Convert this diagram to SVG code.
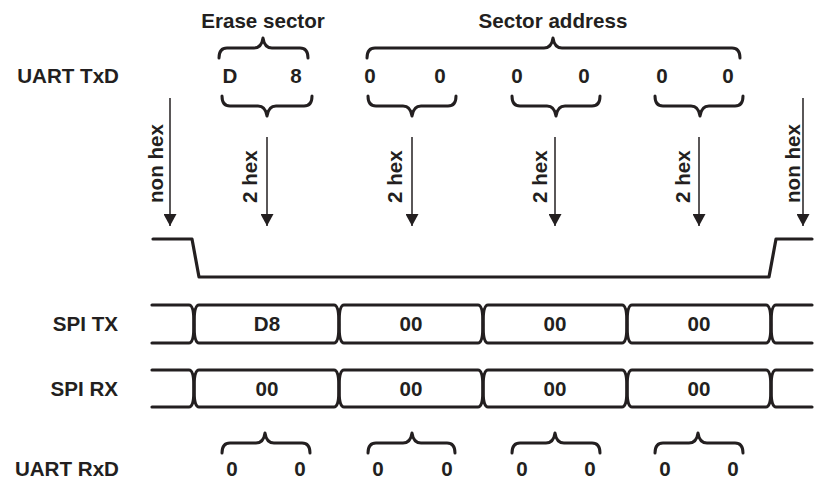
<svg xmlns="http://www.w3.org/2000/svg" width="815" height="479" viewBox="0 0 815 479">
<defs>
<style>
text{font-family:"Liberation Sans",Arial,Helvetica,sans-serif;font-weight:bold;font-size:20.6px;fill:#231f20}
.lbl{text-anchor:end}
.c{text-anchor:middle}
.brace{fill:none;stroke:#231f20;stroke-width:3;stroke-linecap:round;stroke-linejoin:round}
.bus{fill:none;stroke:#231f20;stroke-width:3.2;stroke-linecap:round;stroke-linejoin:round}
.arr{stroke:#231f20;stroke-width:1.5;marker-end:url(#ah)}
</style>
<marker id="ah" markerUnits="userSpaceOnUse" markerWidth="13" markerHeight="13" refX="12" refY="6.5" orient="auto">
<path d="M0,0 L12,6.5 L0,13 Z" fill="#231f20"/>
</marker>
</defs>
<rect width="815" height="479" fill="#fff"/>

<g id="labels">
<text class="lbl" x="119" y="83">UART TxD</text>
<text class="lbl" x="118" y="331">SPI TX</text>
<text class="lbl" x="118" y="396">SPI RX</text>
<text class="lbl" x="119" y="476">UART RxD</text>
</g>

<g id="erase-sector">
<text class="c" x="263" y="28">Erase sector</text>
<path class="brace" d="M219,58 Q219,48 227,48 H254 C259,48 262,45 263,38 C264,45 267,48 272,48 H300 Q308,48 308,58"/>
</g>

<g id="sector-address">
<text class="c" x="553" y="28">Sector address</text>
<path class="brace" d="M367,58 Q367,48 375,48 H544 C549,48 552,45 553,38 C554,45 557,48 562,48 H732 Q740,48 740,58"/>
</g>

<g id="uart-txd">
<text class="c" x="230" y="83">D</text>
<text class="c" x="296" y="83">8</text>
<text class="c" x="370" y="83">0</text>
<text class="c" x="440" y="83">0</text>
<text class="c" x="517" y="83">0</text>
<text class="c" x="584" y="83">0</text>
<text class="c" x="662" y="83">0</text>
<text class="c" x="728" y="83">0</text>
<path class="brace" d="M222,96 Q222,106 230,106 H258 C263,106 266,109 267,116 C268,109 271,106 276,106 H304 Q312,106 312,96"/>
<path class="brace" d="M368,96 Q368,106 376,106 H403 C408,106 411,109 412,116 C413,109 416,106 421,106 H448 Q456,106 456,96"/>
<path class="brace" d="M512,96 Q512,106 520,106 H547 C552,106 555,109 556,116 C557,109 560,106 565,106 H592 Q600,106 600,96"/>
<path class="brace" d="M655,96 Q655,106 663,106 H691 C696,106 699,109 700,116 C701,109 704,106 709,106 H735 Q743,106 743,96"/>
</g>

<g id="connectors">
<line class="arr" x1="170" y1="98" x2="170" y2="226"/>
<line class="arr" x1="267" y1="137" x2="267" y2="226"/>
<line class="arr" x1="412" y1="137" x2="412" y2="226"/>
<line class="arr" x1="555" y1="137" x2="555" y2="226"/>
<line class="arr" x1="699" y1="137" x2="699" y2="226"/>
<line class="arr" x1="803" y1="98" x2="803" y2="226"/>
</g>

<g id="arrow-labels">
<text transform="translate(163,203) rotate(-90)">non hex</text>
<text transform="translate(257,203) rotate(-90)">2 hex</text>
<text transform="translate(402,203) rotate(-90)">2 hex</text>
<text transform="translate(547,203) rotate(-90)">2 hex</text>
<text transform="translate(690,203) rotate(-90)">2 hex</text>
<text transform="translate(800,203) rotate(-90)">non hex</text>
</g>

<g id="level">
<path class="bus" d="M153,239 H192 L199,277 H769 L776,239 H812"/>
</g>

<g id="spi-tx">
<path class="bus" d="M152,305 H189 Q194,305 194,324 Q194,343 189,343 H152"/>
<path class="bus" d="M194,324 Q194,305 199,305 H334 Q339,305 339,324 Q339,343 334,343 H199 Q194,343 194,324 Z"/>
<path class="bus" d="M339,324 Q339,305 344,305 H478 Q483,305 483,324 Q483,343 478,343 H344 Q339,343 339,324 Z"/>
<path class="bus" d="M483,324 Q483,305 488,305 H622 Q627,305 627,324 Q627,343 622,343 H488 Q483,343 483,324 Z"/>
<path class="bus" d="M627,324 Q627,305 632,305 H766 Q771,305 771,324 Q771,343 766,343 H632 Q627,343 627,324 Z"/>
<path class="bus" d="M812,305 H776 Q771,305 771,324 Q771,343 776,343 H812"/>
<text class="c" x="267" y="331">D8</text>
<text class="c" x="411" y="331">00</text>
<text class="c" x="555" y="331">00</text>
<text class="c" x="699" y="331">00</text>
</g>

<g id="spi-rx">
<path class="bus" d="M152,370 H189 Q194,370 194,388.5 Q194,407 189,407 H152"/>
<path class="bus" d="M194,388.5 Q194,370 199,370 H334 Q339,370 339,388.5 Q339,407 334,407 H199 Q194,407 194,388.5 Z"/>
<path class="bus" d="M339,388.5 Q339,370 344,370 H478 Q483,370 483,388.5 Q483,407 478,407 H344 Q339,407 339,388.5 Z"/>
<path class="bus" d="M483,388.5 Q483,370 488,370 H622 Q627,370 627,388.5 Q627,407 622,407 H488 Q483,407 483,388.5 Z"/>
<path class="bus" d="M627,388.5 Q627,370 632,370 H766 Q771,370 771,388.5 Q771,407 766,407 H632 Q627,407 627,388.5 Z"/>
<path class="bus" d="M812,370 H776 Q771,370 771,388.5 Q771,407 776,407 H812"/>
<text class="c" x="267" y="396">00</text>
<text class="c" x="411" y="396">00</text>
<text class="c" x="555" y="396">00</text>
<text class="c" x="699" y="396">00</text>
</g>

<g id="uart-rxd">
<path class="brace" d="M222,453 Q222,443 230,443 H256 C261,443 264,440 265,433 C266,440 269,443 274,443 H302 Q310,443 310,453"/>
<path class="brace" d="M368,453 Q368,443 376,443 H403 C408,443 411,440 412,433 C413,440 416,443 421,443 H447 Q455,443 455,453"/>
<path class="brace" d="M512,453 Q512,443 520,443 H546 C551,443 554,440 555,433 C556,440 559,443 564,443 H592 Q600,443 600,453"/>
<path class="brace" d="M655,453 Q655,443 663,443 H689 C694,443 697,440 698,433 C699,440 702,443 707,443 H735 Q743,443 743,453"/>
<text class="c" x="232" y="476">0</text>
<text class="c" x="300" y="476">0</text>
<text class="c" x="378" y="476">0</text>
<text class="c" x="447" y="476">0</text>
<text class="c" x="522" y="476">0</text>
<text class="c" x="590" y="476">0</text>
<text class="c" x="665" y="476">0</text>
<text class="c" x="733" y="476">0</text>
</g>
</svg>
